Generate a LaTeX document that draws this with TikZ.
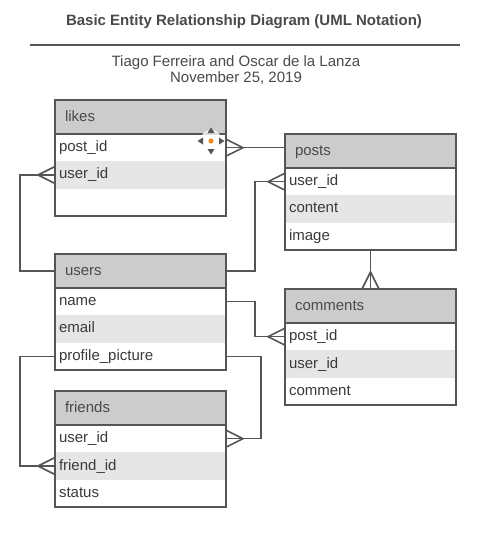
\documentclass[tikz,border=0pt]{standalone}
\usepackage{fontspec}
\setmainfont{Liberation Sans}
\usetikzlibrary{calc}
\definecolor{hdrfill}{HTML}{CCCCCC}
\definecolor{altfill}{HTML}{E6E6E6}
\definecolor{edge}{HTML}{555555}
\definecolor{txt}{HTML}{3A3A3A}
\definecolor{hdrtxt}{HTML}{4A4A4A}
\definecolor{handle}{HTML}{F08A24}
\tikzset{
  x=1pt, y=-1pt,
  base/.style={rectangle, outer sep=0pt, inner ysep=0pt, align=left,
    text height=11pt, text depth=3pt,
    font=\fontsize{15}{18}\selectfont},
  hdr/.style={base, fill=hdrfill, text=hdrtxt, minimum height=34pt,
    inner xsep=10pt, text width=151pt},
  rowA/.style={base, fill=white, text=txt, minimum height=27.33pt,
    inner xsep=4pt, text width=163pt},
  rowB/.style={rowA, fill=altfill},
  border/.style={draw=edge, line width=1.6pt},
  conn/.style={draw=edge, line width=1.6pt, line join=miter},
}
\newcommand{\erTable}[7]{%
  \node[hdr, anchor=north west] (#1) at (#2,#3) {#4};
  \node[rowA, anchor=north west] (#1-1) at (#1.south west) {#5};
  \node[rowB, anchor=north west] (#1-2) at (#1-1.south west) {#6};
  \node[rowA, anchor=north west] (#1-3) at (#1-2.south west) {#7};
  \draw[border] (#1.north west) rectangle (#1-3.south east);
  \draw[border] (#1.south west) -- (#1.south east);
}
\newcommand{\crowR}[1]{\draw[conn] ([yshift=8.5pt]#1) -- ([xshift=17pt]#1) -- ([yshift=-8.5pt]#1);}
\newcommand{\crowL}[1]{\draw[conn] ([yshift=8.5pt]#1) -- ([xshift=-17pt]#1) -- ([yshift=-8.5pt]#1);}
\newcommand{\crowU}[1]{\draw[conn] ([xshift=-8.5pt]#1) -- ([yshift=17pt]#1) -- ([xshift=8.5pt]#1);}
\begin{document}
\begin{tikzpicture}
\useasboundingbox[fill=white] (0,0) rectangle (477,541);
% title block
\node[font=\bfseries\fontsize{15}{18}\selectfont, text=hdrtxt] (title) at (244,22) {Basic Entity Relationship Diagram (UML Notation)};
\draw[draw=edge, line width=1.3pt] (30,45) -- (460,45);
\node[font=\fontsize{15}{16}\selectfont, text=hdrtxt, align=center] (sub) at (236,70) {Tiago Ferreira and Oscar de la Lanza\\November 25, 2019};
% tables
\erTable{likes}{55}{100}{likes}{post\_id}{user\_id}{}
\erTable{posts}{285}{134}{posts}{user\_id}{content}{image}
\erTable{users}{55}{254}{users}{name}{email}{profile\_picture}
\erTable{comments}{285}{289}{comments}{post\_id}{user\_id}{comment}
\erTable{friends}{55}{391}{friends}{user\_id}{friend\_id}{status}
% connectors
\draw[conn] (likes-1.east) -- (likes-1.east -| posts.west);
\crowR{likes-1.east}
\draw[conn] (likes-2.west) -- ++(-35pt,0) |- (users.west);
\crowL{likes-2.west}
\draw[conn] (users.east) -- ++(29pt,0) |- (posts-1.west);
\crowL{posts-1.west}
\draw[conn] (posts-3.south) -- (comments.north);
\crowU{comments.north}
\draw[conn] (users-1.east) -- ++(29pt,0) |- (comments-1.west);
\crowL{comments-1.west}
\draw[conn] (users-3.east) -- ++(35pt,0) |- (friends-1.east);
\crowR{friends-1.east}
\draw[conn] (users-3.west) -- ++(-35pt,0) |- (friends-2.west);
\crowL{friends-2.west}
% move handle shown on likes
\fill[white, opacity=0.8] (211,141) circle (11pt);
\fill[handle] (211,141) circle (2.6pt);
\fill[edge] (211,127.5) -- (207.5,133) -- (214.5,133) -- cycle;
\fill[edge] (211,154.5) -- (207.5,149) -- (214.5,149) -- cycle;
\fill[edge] (197.5,141) -- (203,137.5) -- (203,144.5) -- cycle;
\fill[edge] (224.5,141) -- (219,137.5) -- (219,144.5) -- cycle;
\end{tikzpicture}
\end{document}
